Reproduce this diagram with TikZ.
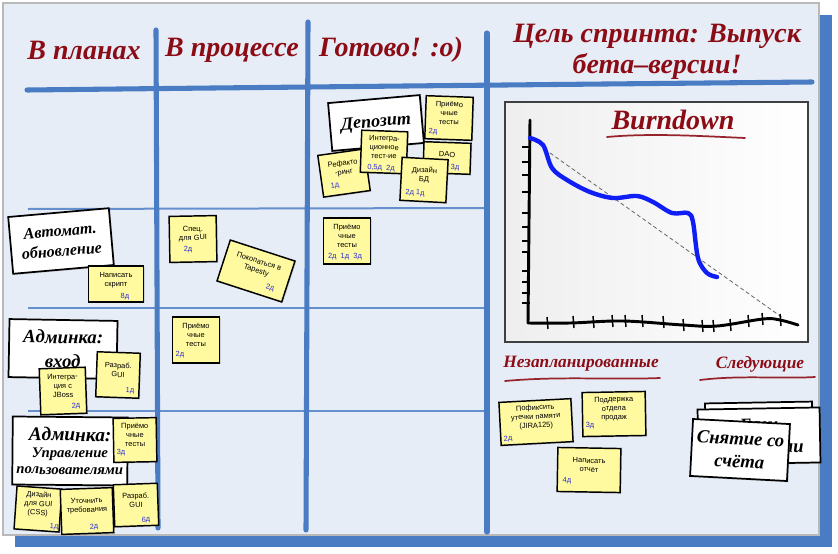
\documentclass[tikz,border=0pt]{standalone}
\usepackage{fontspec}
\setmainfont{Liberation Serif}
\newfontfamily\notefont{Liberation Sans}
\usetikzlibrary{calc,shadows}

\definecolor{boardbg}{RGB}{231,237,246}
\definecolor{gridblue}{RGB}{74,124,196}
\definecolor{headred}{RGB}{140,12,22}
\definecolor{noteyellow}{RGB}{255,250,160}
\definecolor{estblue}{RGB}{45,45,215}
\definecolor{burnblue}{RGB}{15,30,245}

% sticky note: name, centre, angle, width, height, text, estimate position, estimate
\newcommand\postit[8]{%
  \node[note, rotate=#3, minimum width=#4*0.75pt, minimum height=#5*0.75pt] (#1) at (#2) {};
  \node[notetext, rotate=#3] (#1-txt) at ($(#1.center)!0.22!(#1.north)$) {#6};
  \node[est, rotate=#3] (#1-est) at (#7) {#8};
}
% story card: name, centre, angle, width, height, text, font size
\newcommand\storycard[7]{%
  \node[storycard, rotate=#3, minimum width=#4*0.75pt, minimum height=#5*0.75pt,
        font=\bfseries\itshape\fontsize#7\selectfont] (#1) at (#2) {#6};
}

\begin{document}
\begin{tikzpicture}[x=0.75pt, y=-0.75pt,
  note/.style={draw=black, line width=1.1pt, fill=noteyellow, inner sep=0pt,
    drop shadow={opacity=0.25, shadow xshift=0.9pt, shadow yshift=-0.9pt}},
  notetext/.style={font=\notefont\fontsize{5.6}{6.7}\selectfont, align=center, inner sep=0pt},
  est/.style={font=\notefont\fontsize{5.6}{6}\selectfont, text=estblue, inner sep=0pt},
  storycard/.style={draw=black, line width=1.3pt, fill=white, inner sep=0pt, align=center,
    drop shadow={opacity=0.25, shadow xshift=1pt, shadow yshift=-1pt}},
  heading/.style={font=\bfseries\itshape\fontsize{21}{23}\selectfont, text=headred, inner sep=0pt},
  subhead/.style={font=\bfseries\itshape\fontsize{13}{15}\selectfont, text=headred, inner sep=0pt},
  gridline/.style={draw=gridblue, line width=3.8pt, line cap=round},
  thinline/.style={draw=gridblue!85, line width=1.5pt},
  redline/.style={draw=headred!90, line width=1.3pt, line cap=round},
  axis/.style={draw=black, line width=2.2pt, line cap=round},
  tick/.style={draw=black, line width=1.1pt},
]
\useasboundingbox (0,0) rectangle (838,553);
\fill[white] (0,0) rectangle (838,553);

% board with its shadow
\fill[gridblue] (15,15) rectangle (832,547);
\fill[boardbg] (3,3) rectangle (819,535);
\draw[gray!55, line width=0.8pt] (3,3) rectangle (819,535);

% column and row lines
\draw[thinline] (28,209) -- (487,208);
\draw[thinline] (28,308) -- (487,308);
\draw[thinline] (28,411) -- (487,411);
\draw[gridline] (27,90) .. controls (300,87) and (600,84) .. (812,82);
\draw[gridline] (156,30) -- (158,528);
\draw[gridline] (308,22) -- (306,530);
\draw[gridline] (487,33) -- (487,532);

% column headings
\node[heading] (hPlanned) at (84,50) {В планах};
\node[heading] (hProgress) at (232,50) {В процессе};
\node[heading] (hDone) at (391,50) {Готово! :o)};
\node[heading, align=center] (hGoal) at (657,52)
  {Цель спринта: Выпуск\\бета–версии!};

% ---- Deposit story ----
\storycard{depCard}{376,123}{5}{92}{48}{Депозит}{{13.5}{16}}
\postit{depDao}{447,158}{-2}{47}{31}{DAO}{455,168}{3д}
\postit{depAccept}{449,118}{-2}{47}{43}{Приёмо\\чные\\тесты}{433,132}{2д}
\postit{depRefac}{344,173}{8}{47}{42}{Рефакто\\-ринг}{335,186}{1д}
\postit{depInteg}{384,152}{-2}{46}{42}{Интегра-\\ционное\\тест-ие}{381,168}{0,5д\ \ 2д}
\postit{depDesign}{424,180}{-3}{46}{43}{Дизайн\\БД}{415,193}{2д\ 1д}

% ---- Auto update story ----
\storycard{autoCard}{61,241}{5}{101}{57}{Автомат.\\обновление}{{12}{15}}
\postit{autoScript}{116,284}{0}{55}{36}{Написать\\скрипт}{125,297}{8д}

% ---- Admin login story ----
\storycard{loginCard}{63,349}{-1}{108}{58}{Админка:\\вход}{{14}{18}}
\postit{loginGui}{118,375}{-2}{43}{45}{Разраб.\\GUI}{130,391}{1д}
\postit{loginJboss}{63,391}{2}{46}{46}{Интегра-\\ция с\\JBoss}{76,406}{2д}
\postit{specGui}{193,239}{1}{47}{46}{Спец.\\для GUI}{188,250}{2д}
\postit{tapestry}{256,271}{-18}{68}{43}{Покопаться в\\Tapesty}{270,288}{2д}
\postit{doneAccept}{347,241}{0}{47}{46}{Приёмо\\чные\\тесты}{345,257}{2д\ \ 1д\ \ 3д}

% ---- Admin users story ----
\storycard{usersCard}{70,451}{-0.5}{115}{68}{{\fontsize{14.5}{17}\selectfont Админка:}\\Управление\\пользователями}{{11}{12.5}}
\postit{usersAccept}{135,440}{1}{43}{44}{Приёмо\\чные\\тесты}{121,453}{3д}
\postit{usersCss}{38,509}{-4}{45}{43}{Дизайн\\для GUI\\(CSS)}{54,527}{1д}
\postit{usersReq}{87,511}{2}{52}{45}{Уточнить\\требования}{94,527}{2д}
\postit{usersGui}{136,505}{2}{44}{42}{Разраб.\\GUI}{146,520}{6д}
\postit{testAccept}{196,340}{0}{47}{46}{Приёмо\\чные\\тесты}{180,355}{2д}

% ---- Burndown chart ----
\node[draw=black!75, line width=1.2pt, left color=gray!13, right color=white,
      minimum width=303*0.75pt, minimum height=240*0.75pt, inner sep=0pt] (chart) at (656.5,222) {};
\node[font=\bfseries\itshape\fontsize{21}{23}\selectfont, text=headred, inner sep=0pt] (chartTitle) at (673,120) {Burndown};
\draw[redline] (607,137) .. controls (650,133) and (700,136) .. (745,138);
\draw[dashed, dash pattern=on 3pt off 2pt, black!60, line width=0.6pt] (550,153) -- (783,318);
\draw[axis] (530,120) -- (528,323);
\draw[axis] plot[smooth, tension=0.6] coordinates {(528,323) (570,323) (623,321) (683,325) (717,326) (763,319) (780,320) (798,325)};
\foreach \ty in {147,162,175,192,213,227,241,252,271,282,293,303}
  \draw[tick] (522,\ty) -- (530,\ty);
\foreach \tx/\ty in {547/323,573/322,593/322,612/321,625/321,642/321,663/322,683/325,702/326,713/326,730/325,748/321,762/319,780/320}
  \draw[tick] (\tx,\ty-6) -- (\tx+1,\ty+6);
\draw[burnblue, line width=3.3pt, line cap=round, line join=round]
  plot[smooth, tension=0.55] coordinates {(530,138) (543,145) (552,168) (567,180) (590,192) (613,198) (637,196) (653,202) (672,213) (688,213) (693,222) (698,258) (707,273) (717,277)};

% ---- Unplanned ----
\node[subhead] (unplannedHead) at (581,364) {Незапланированные};
\draw[redline] (505,381) .. controls (560,376) and (610,380) .. (660,378);
\postit{fixLeak}{536,422}{3}{72}{43}{Пофиксить\\утечки памяти\\(JIRA125)}{508,439}{2д}
\postit{salesSupport}{614,414}{1}{63}{44}{Поддержка\\отдела\\продаж}{590,426}{3д}
\postit{writeReport}{589,470}{-1}{63}{44}{Написать\\отчёт}{567,481}{4д}

% ---- Next ----
\node[subhead] (nextHead) at (760,364) {Следующие};
\draw[redline] (700,380) .. controls (740,375) and (780,379) .. (815,377);
\storycard{nextBackA}{759,430}{1}{107}{55}{}{{14}{16}}
\storycard{nextBackB}{759,436}{1}{122}{55}{Баги\\с деньгами}{{14}{17}}
\storycard{nextFront}{740,450}{-3}{97}{57}{Снятие со\\счёта}{{14}{17}}
\end{tikzpicture}
\end{document}
